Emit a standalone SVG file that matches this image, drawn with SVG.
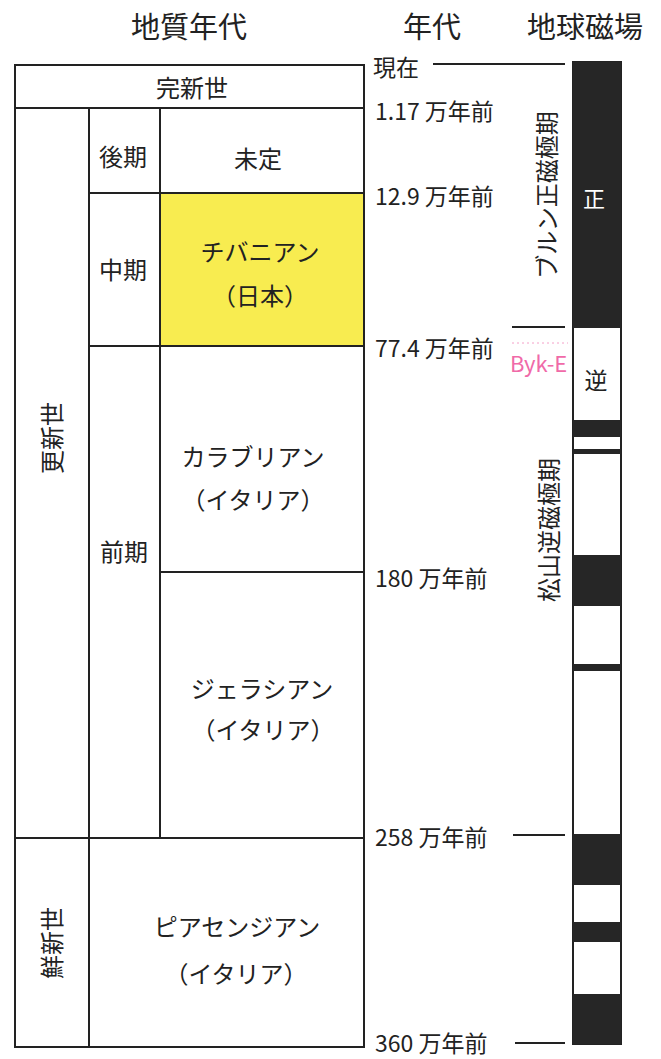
<svg xmlns="http://www.w3.org/2000/svg" width="661" height="1059" viewBox="0 0 661 1059">
<style>
text{font-family:"Noto Sans CJK JP","Noto Sans",sans-serif;fill:#222;}
.h{font-size:29px;text-anchor:middle;}
.t{font-size:24px;text-anchor:middle;dominant-baseline:central;}
.a{font-size:23px;dominant-baseline:central;}
.ln{stroke:#222;stroke-width:2;fill:none;}
.blk{fill:#262626;}
</style>
<rect width="661" height="1059" fill="#fff"/>
<g id="headers">
<text class="h" x="189" y="38">地質年代</text>
<text class="h" x="432" y="38">年代</text>
<text class="h" x="585" y="38">地球磁場</text>
</g>
<g id="table">
<rect x="160" y="193" width="204" height="153" fill="#f8ec50"/>
<rect class="ln" x="15" y="65" width="349" height="982"/>
<line class="ln" x1="15" y1="108" x2="364" y2="108"/>
<line class="ln" x1="89" y1="108" x2="89" y2="1047"/>
<line class="ln" x1="160" y1="108" x2="160" y2="838"/>
<line class="ln" x1="89" y1="193" x2="364" y2="193"/>
<line class="ln" x1="89" y1="346" x2="364" y2="346"/>
<line class="ln" x1="160" y1="572" x2="364" y2="572"/>
<line class="ln" x1="15" y1="838" x2="364" y2="838"/>
</g>
<g id="holocene"><text class="t" x="192" y="86">完新世</text></g>
<g id="pleistocene"><text class="t" transform="translate(50,438) rotate(-90)">更新世</text></g>
<g id="pliocene"><text class="t" transform="translate(50,943) rotate(-90)">鮮新世</text></g>
<g id="late"><text class="t" x="123" y="155">後期</text></g>
<g id="middle"><text class="t" x="123" y="268">中期</text></g>
<g id="early"><text class="t" x="124" y="550">前期</text></g>
<g id="undefined"><text class="t" x="258" y="157">未定</text></g>
<g id="chibanian"><text class="t" x="260" y="250">チバニアン</text><text class="t" x="260" y="294">（日本）</text></g>
<g id="calabrian"><text class="t" x="253" y="455">カラブリアン</text><text class="t" x="253" y="498">（イタリア）</text></g>
<g id="gelasian"><text class="t" x="262" y="687">ジェラシアン</text><text class="t" x="263" y="728">（イタリア）</text></g>
<g id="piacenzian"><text class="t" x="237" y="925">ピアセンジアン</text><text class="t" x="236" y="972">（イタリア）</text></g>
<g id="ages">
<text class="a" x="373" y="66">現在</text>
<text class="a" x="375" y="110">1.17 万年前</text>
<text class="a" x="375" y="195">12.9 万年前</text>
<text class="a" x="375" y="347">77.4 万年前</text>
<text class="a" x="375" y="577">180 万年前</text>
<text class="a" x="375" y="836">258 万年前</text>
<text class="a" x="375" y="1042">360 万年前</text>
</g>
<g id="connectors">
<line class="ln" x1="433" y1="64" x2="565" y2="64"/>
<line class="ln" x1="512" y1="327" x2="565" y2="327"/>
<line class="ln" x1="513" y1="835" x2="565" y2="835"/>
<line class="ln" x1="515" y1="1043" x2="565" y2="1043"/>
<line x1="512" y1="343" x2="568" y2="343" stroke="#f4a0c8" stroke-width="1" stroke-dasharray="2,3"/>
</g>
<g id="byk-e"><text x="510" y="372" style="font-size:22px;fill:#f06aa8">Byk-E</text></g>
<g id="magnetic-column">
<rect x="573" y="62" width="48" height="982" fill="#fff" stroke="#222" stroke-width="2"/>
<rect class="blk" x="573" y="62" width="48" height="266"/>
<rect class="blk" x="573" y="420" width="48" height="17"/>
<rect class="blk" x="573" y="449" width="48" height="5"/>
<rect class="blk" x="573" y="555" width="48" height="51"/>
<rect class="blk" x="573" y="664" width="48" height="7"/>
<rect class="blk" x="573" y="834" width="48" height="51"/>
<rect class="blk" x="573" y="922" width="48" height="20"/>
<rect class="blk" x="573" y="994" width="48" height="50"/>
<text class="t" x="594" y="197" style="fill:#fff;font-size:22px">正</text>
<text class="t" x="596" y="379" style="font-size:23px">逆</text>
</g>
<g id="brunhes"><text class="t" transform="translate(545,195) rotate(-90)">ブルン正磁極期</text></g>
<g id="matuyama"><text class="t" transform="translate(547,530) rotate(-90)">松山逆磁極期</text></g>
</svg>
